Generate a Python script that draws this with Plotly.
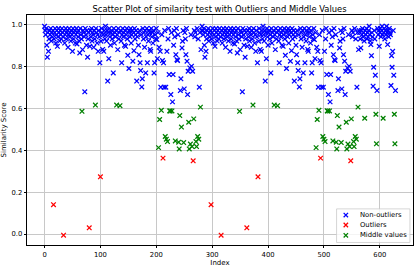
import plotly.graph_objects as go

# Similarity scores, in index order (first run: indices 0-281)
run1 = [
    0.99, 0.97, 0.95, 0.98, 0.90, 0.843, 0.96, 0.871, 0.93, 0.97,
    0.95, 0.98, 0.92, 0.96, 0.94, 0.97, 0.14, 0.93, 0.96, 0.98,
    0.91, 0.95, 0.97, 0.895, 0.94, 0.98, 0.96, 0.92, 0.97, 0.95,
    0.93, 0.98, 0.96, 0.94, -0.005, 0.97, 0.91, 0.95, 0.98, 0.93,
    0.96, 0.97, 0.89, 0.95, 0.98, 0.94, 0.96, 0.92, 0.97, 0.95,
    0.871, 0.98, 0.93, 0.96, 0.97, 0.91, 0.95, 0.98, 0.906, 0.96,
    0.94, 0.97, 0.92, 0.863, 0.98, 0.95, 0.93, 0.585, 0.879, 0.97,
    0.96, 0.94, 0.678, 0.98, 0.95, 0.90, 0.97, 0.843, 0.93, 0.96,
    0.03, 0.895, 0.97, 0.94, 0.98, 0.92, 0.96, 0.95, 0.89, 0.97,
    0.93, 0.615, 0.98, 0.96, 0.91, 0.95, 0.871, 0.97, 0.94, 0.816,
    0.273, 0.919, 0.98, 0.96, 0.88, 0.95, 0.871, 0.97, 0.93, 0.99,
    0.95, 0.92, 0.97, 0.729, 0.96, 0.836, 0.98, 0.94, 0.90, 0.96,
    0.97, 0.93, 0.95, 0.768, 0.98, 0.91, 0.96, 0.94, 0.97, 0.615,
    0.95, 0.879, 0.98, 0.93, 0.96, 0.612, 0.97, 0.92, 0.816, 0.95,
    0.98, 0.94, 0.96, 0.90, 0.97, 0.895, 0.95, 0.98, 0.93, 0.852,
    0.96, 0.789, 0.97, 0.94, 0.98, 0.91, 0.95, 0.97, 0.824, 0.96,
    0.874, 0.98, 0.93, 0.95, 0.97, 0.729, 0.94, 0.96, 0.90, 0.855,
    0.97, 0.816, 0.779, 0.95, 0.701, 0.740, 0.98, 0.93, 0.96, 0.89,
    0.97, 0.768, 0.94, 0.98, 0.816, 0.95, 0.92, 0.97, 0.96, 0.88,
    0.871, 0.98, 0.94, 0.96, 0.91, 0.97, 0.768, 0.816, 0.95, 0.93,
    0.98, 0.927, 0.836, 0.96, 0.412, 0.89, 0.546, 0.871, 0.700, 0.590,
    0.95, 0.827, 0.362, 0.816, 0.700, 0.97, 0.465, 0.700, 0.452, 0.871,
    0.441, 0.93, 0.98, 0.760, 0.587, 0.587, 0.665, 0.96, 0.587, 0.630,
    0.760, 0.90, 0.97, 0.94, 0.444, 0.855, 0.98, 0.831, 0.827, 0.95,
    0.438, 0.406, 0.565, 0.684, 0.740, 0.510, 0.887, 0.919, 0.97, 0.436,
    0.692, 0.96, 0.93, 0.855, 0.98, 0.824, 0.665, 0.776, 0.533, 0.406,
    0.792, 0.429, 0.95, 0.80, 0.417, 0.776, 0.349, 0.549, 0.97, 0.94,
    0.96, 0.441, 0.417, 0.98, 0.465, 0.93, 0.452, 0.700, 0.96, 0.605,
    0.879, 0.97,
]

# Second run: indices 282-628
run2 = [
    0.99, 0.97, 0.95, 0.98, 0.90, 0.843, 0.96, 0.871, 0.93, 0.97,
    0.95, 0.98, 0.92, 0.96, 0.94, 0.97, 0.14, 0.93, 0.96, 0.98,
    0.91, 0.95, 0.97, 0.895, 0.94, 0.98, 0.96, 0.92, 0.97, 0.95,
    0.93, 0.98, 0.96, 0.94, -0.005, 0.97, 0.91, 0.95, 0.98, 0.93,
    0.96, 0.97, 0.89, 0.95, 0.98, 0.94, 0.96, 0.92, 0.97, 0.95,
    0.871, 0.98, 0.93, 0.96, 0.97, 0.91, 0.95, 0.98, 0.906, 0.96,
    0.94, 0.97, 0.92, 0.863, 0.98, 0.95, 0.93, 0.585, 0.879, 0.97,
    0.96, 0.94, 0.678, 0.98, 0.95, 0.90, 0.97, 0.843, 0.93, 0.96,
    0.03, 0.895, 0.97, 0.94, 0.98, 0.92, 0.96, 0.95, 0.89, 0.97,
    0.93, 0.615, 0.98, 0.96, 0.91, 0.95, 0.871, 0.97, 0.94, 0.816,
    0.273, 0.919, 0.98, 0.96, 0.88, 0.95, 0.871, 0.97, 0.93, 0.99,
    0.95, 0.92, 0.97, 0.729, 0.96, 0.836, 0.98, 0.94, 0.90, 0.96,
    0.97, 0.93, 0.95, 0.768, 0.98, 0.91, 0.96, 0.94, 0.97, 0.615,
    0.95, 0.879, 0.98, 0.93, 0.96, 0.612, 0.97, 0.92, 0.816, 0.95,
    0.98, 0.94, 0.96, 0.90, 0.97, 0.895, 0.95, 0.98, 0.93, 0.852,
    0.96, 0.789, 0.97, 0.94, 0.98, 0.91, 0.95, 0.97, 0.824, 0.96,
    0.874, 0.98, 0.93, 0.95, 0.97, 0.729, 0.94, 0.96, 0.90, 0.855,
    0.97, 0.816, 0.779, 0.95, 0.701, 0.740, 0.98, 0.93, 0.96, 0.89,
    0.97, 0.768, 0.94, 0.98, 0.816, 0.95, 0.92, 0.97, 0.96, 0.88,
    0.871, 0.98, 0.94, 0.96, 0.91, 0.97, 0.768, 0.816, 0.95, 0.93,
    0.98, 0.927, 0.836, 0.96, 0.412, 0.89, 0.546, 0.871, 0.700, 0.590,
    0.95, 0.827, 0.362, 0.816, 0.700, 0.97, 0.465, 0.700, 0.452, 0.871,
    0.441, 0.93, 0.98, 0.760, 0.587, 0.587, 0.665, 0.96, 0.587, 0.630,
    0.760, 0.90, 0.97, 0.94, 0.444, 0.855, 0.98, 0.831, 0.827, 0.95,
    0.438, 0.406, 0.565, 0.684, 0.740, 0.510, 0.887, 0.919, 0.97, 0.436,
    0.692, 0.96, 0.93, 0.855, 0.98, 0.824, 0.665, 0.776, 0.533, 0.406,
    0.792, 0.429, 0.95, 0.80, 0.417, 0.776, 0.349, 0.549, 0.97, 0.94,
    0.96, 0.441, 0.417, 0.98, 0.465, 0.93, 0.452, 0.700, 0.96, 0.605,
    0.879, 0.97,
    0.96, 0.93, 0.887, 0.97, 0.95, 0.98, 0.94, 0.96, 0.92, 0.552,
    0.97, 0.95, 0.98, 0.93, 0.96, 0.94, 0.97, 0.99, 0.95, 0.92,
    0.903, 0.850, 0.96, 0.94, 0.705, 0.795, 0.97, 0.93, 0.757, 0.571,
    0.430, 0.684, 0.98, 0.95, 0.97, 0.895, 0.96, 0.98, 0.94, 0.97,
    0.99, 0.95, 0.552, 0.96, 0.98, 0.93, 0.97, 0.95, 0.99, 0.96,
    0.903, 0.97, 0.94, 0.98, 0.96, 0.95, 0.708, 0.850, 0.795, 0.871,
    0.97, 0.757, 0.571, 0.430, 0.684,
]

scores = run1 + run2
indices = list(range(len(scores)))

OUTLIER_MAX = 0.38
MIDDLE_MAX = 0.62

series_names = ["Non-outliers", "Outliers", "Middle values"]
series_colors = ["#0000ff", "#ff0000", "#008000"]

groups = {n: ([], []) for n in series_names}
for i, s in zip(indices, scores):
    if s < OUTLIER_MAX:
        name = "Outliers"
    elif s < MIDDLE_MAX:
        name = "Middle values"
    else:
        name = "Non-outliers"
    groups[name][0].append(i)
    groups[name][1].append(s)

x_ticks = [0, 100, 200, 300, 400, 500, 600]
y_ticks = [0.0, 0.2, 0.4, 0.6, 0.8, 1.0]

fig = go.Figure()
for name, color in zip(series_names, series_colors):
    xs, ys = groups[name]
    fig.add_trace(go.Scatter(
        x=xs, y=ys, mode="markers", name=name, showlegend=False,
        marker=dict(symbol="x-thin", size=4.6, color=color,
                    line=dict(width=1.25, color=color)),
    ))

font = "DejaVu Sans"
axis_common = dict(
    showline=True, mirror=True, linecolor="black", linewidth=0.8,
    showgrid=True, gridcolor="#c8c8c8", gridwidth=0.8,
    zeroline=False, ticks="outside", ticklen=2.5, tickwidth=0.8,
    tickcolor="black", tickfont=dict(family=font, size=6.8, color="black"),
    automargin=False,
)

# Legend drawn as a compact box (matplotlib-style spacing)
shapes = [dict(type="rect", xref="paper", yref="paper",
               x0=0.802, x1=0.992, y0=0.011, y1=0.157,
               line=dict(color="#cccccc", width=0.8),
               fillcolor="rgba(255,255,255,0.8)", layer="above")]
annotations = []
legend_rows = [0.130, 0.087, 0.042]
for name, color, ry in zip(series_names, series_colors, legend_rows):
    shapes.append(dict(type="path", xref="paper", yref="paper",
                       xsizemode="pixel", ysizemode="pixel",
                       xanchor=0.826, yanchor=ry,
                       path="M-2.2,-2.2 L2.2,2.2 M-2.2,2.2 L2.2,-2.2",
                       line=dict(color=color, width=1.25), layer="above"))
    annotations.append(dict(text=name, xref="paper", yref="paper",
                            x=0.858, y=ry, xanchor="left", yanchor="middle",
                            showarrow=False,
                            font=dict(family=font, size=6.8, color="black")))

fig.update_layout(
    width=415, height=268,
    margin=dict(l=27, r=2, t=15, b=23),
    paper_bgcolor="white", plot_bgcolor="white",
    title=dict(text="Scatter Plot of similarity test with Outliers and Middle Values",
               x=0.529, xanchor="center", y=0.968, yanchor="middle",
               font=dict(family=font, size=8.4, color="black")),
    xaxis=dict(range=[-31.4, 659.4], tickvals=x_ticks,
               title=dict(text="Index", font=dict(family=font, size=7, color="black"), standoff=2),
               **axis_common),
    yaxis=dict(range=[-0.052, 1.044], tickvals=y_ticks, tickformat=".1f",
               title=dict(text="Similarity Score", font=dict(family=font, size=7, color="black"), standoff=3),
               **axis_common),
    shapes=shapes,
    annotations=annotations,
    showlegend=False,
)

fig.write_html("out.html", config={"displayModeBar": False},
               post_script="document.body.style.margin='0px';")
